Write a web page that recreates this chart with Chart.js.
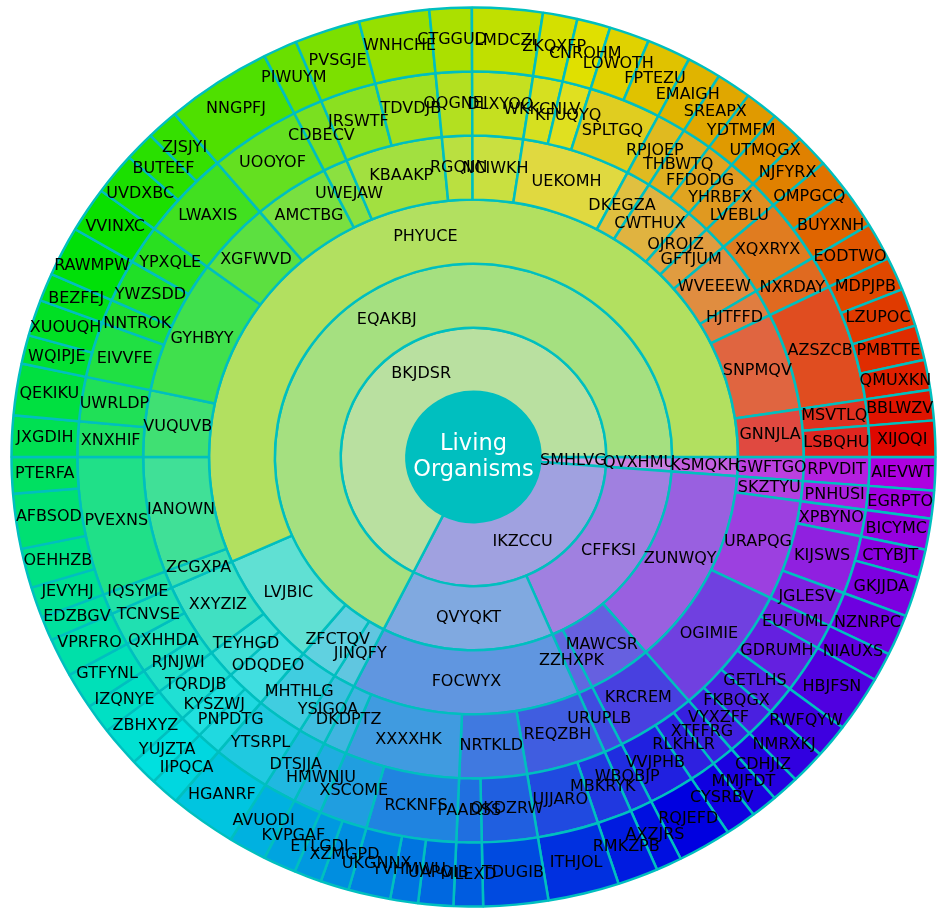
<!DOCTYPE html>
<html>
<head>
<meta charset="utf-8">
<script src="https://cdn.jsdelivr.net/npm/chart.js@4.4.1/dist/chart.umd.min.js"></script>
<style>
  html, body { margin: 0; padding: 0; background: #fff; }
  canvas { display: block; }
</style>
</head>
<body>
<canvas id="sunburst" width="941" height="908"></canvas>
<script>
// every ring is listed counter-clockwise starting at 3 o'clock
// "Kids" = how many segments of the next ring out belong to each segment
var centerTitle = ["Living", "Organisms"];

var ring1Names = ["BKJDSR", "IKZCCU", "SMHLVG"];
var ring1Kids = [1, 2, 1];

var ring2Names = ["EQAKBJ", "QVYQKT", "CFFKSI", "QVXHMU"];
var ring2Kids = [4, 1, 3, 1];

var ring3Names = ["PHYUCE", "LVJBIC", "ZFCTQV", "JINQFY", "FOCWYX", "ZZHXPK", "MAWCSR", "ZUNWQY", "KSMQKH"];
var ring3Kids = [19, 3, 1, 1, 4, 1, 1, 3, 1];

var ring4Names = ["GNNJLA", "SNPMQV", "HJTFFD", "WVEEEW", "GFTJUM", "OJROJZ", "CWTHUX", "DKEGZA",
  "UEKOMH", "NCIWKH", "RGQIIN", "KBAAKP", "UWEJAW", "AMCTBG", "XGFWVD", "GYHBYY", "VUQUVB",
  "IANOWN", "ZCGXPA", "XXYZIZ", "TEYHGD", "ODQDEO", "MHTHLG", "YSIGOA", "DKDPTZ", "XXXXHK",
  "NRTKLD", "REQZBH", "URUPLB", "KRCREM", "OGIMIE", "URAPQG", "SKZTYU", "GWFTGO"];
var ring4Kids = [2, 1, 1, 1, 1, 1, 2, 1, 3, 1, 1, 2, 1, 1, 1, 4, 2, 1, 1, 3, 1, 2, 1, 1, 1, 2, 2, 2, 1, 3, 5, 3, 1, 1];

var ring5Names = ["LSBQHU", "MSVTLQ", "AZSZCB", "NXRDAY", "XQXRYX", "LVEBLU", "YHRBFX", "FFDODG",
  "THBWTQ", "RPJOEP", "SPLTGQ", "KFUQYQ", "WKKCNLV", "DLXYOQ", "OQGNEI", "TDVDJB", "JRSWTF",
  "CDBECV", "UOOYOF", "LWAXIS", "YPXQLE", "YWZSDD", "NNTROK", "EIVVFE", "UWRLDP", "XNXHIF",
  "PVEXNS", "IQSYME", "TCNVSE", "QXHHDA", "RJNJWI", "TQRDJB", "KYSZWJ", "PNPDTG", "YTSRPL",
  "DTSJJA", "HMWNJU", "XSCOME", "RCKNFS", "PAADSS", "QKDZRW", "UJJARO", "MBKRYK", "WBQBJP",
  "VVJPHB", "RLKHLR", "XTFFRG", "VYXZFF", "FKBQGX", "GETLHS", "GDRUMH", "EUFUML", "JGLESV",
  "KIJSWS", "XPBYNO", "PNHUSI", "RPVDIT"];
var ring5Kids = [1, 1, 4, 1, 2, 1, 1, 1, 1, 1, 2, 1, 1, 1, 1, 1, 1, 1, 1, 3, 1, 1, 1, 2, 1, 1, 4, 1,
  1, 1, 1, 1, 1, 1, 1, 1, 1, 2, 3, 1, 1, 1, 1, 1, 1, 1, 1, 1, 1, 1, 1, 1, 1, 2, 1, 1, 1];

var leafNames = ["XIJOQI", "BBLWZV", "QMUXKN", "PMBTTE", "LZUPOC", "MDPJPB", "EODTWO", "BUYXNH",
  "OMPGCQ", "NJFYRX", "UTMQGX", "YDTMFM", "SREAPX", "EMAIGH", "FPTEZU", "LOWOTH", "CNROHM",
  "ZKQXFP", "LMDCZI", "CTGGUD", "WNHCHE", "PVSGJE", "PIWUYM", "NNGPFJ", "ZJSJYI", "BUTEEF",
  "UVDXBC", "VVINXC", "RAWMPW", "BEZFEJ", "XUOUQH", "WQIPJE", "QEKIKU", "JXGDIH", "PTERFA",
  "AFBSOD", "OEHHZB", "JEVYHJ", "EDZBGV", "VPRFRO", "GTFYNL", "IZQNYE", "ZBHXYZ", "YUJZTA",
  "IIPQCA", "HGANRF", "AVUODI", "KVPGAF", "ETLGDI", "XZMGPD", "UKGNNX", "YVHMWU", "UAPOIB",
  "MLEXD", "TDUGIB", "ITHJOL", "RMKZPB", "AXZJRS", "RQJEFD", "CYSRBV", "MMJFDT", "CDHJIZ",
  "NMRXKJ", "RWFQYW", "HBJFSN", "NIAUXS", "NZNRPC", "GKJJDA", "CTYBJT", "BICYMC", "EGRPTO",
  "AIEVWT"];
var leafValues = [4.67, 3.93, 3.9, 4.5, 4.9, 4.3, 4.9, 5.1, 4.6, 4.3, 4.2, 4.2, 4.4, 4.3, 5.55,
  5.05, 4.2, 4.34, 8.86, 5.3, 8.85, 8.25, 4.3, 13.4, 4.05, 3.85, 5.5, 5.85, 6.45, 3.6, 4.7, 3.7,
  6.67, 5.33, 4.7, 7.1, 5.1, 4.0, 3.1, 5.0, 4.7, 3.8, 5.2, 3.5, 3.7, 8.4, 4.8, 4.13, 3.47, 3.6,
  5.3, 3.5, 4.4, 3.7, 8.15, 8.95, 5.1, 3.25, 6.75, 3.9, 3.36, 3.51, 4.43, 4.4, 7.3, 3.7, 5.3,
  5.1, 3.7, 4.0, 3.6, 4.3];

function sumUp(childValues, kids) {
  var out = [], k = 0;
  kids.forEach(function (n) {
    var s = 0;
    for (var i = 0; i < n; i++) s += childValues[k++];
    out.push(s);
  });
  return out;
}

var ring5Values = sumUp(leafValues, ring5Kids);
var ring4Values = sumUp(ring5Values, ring4Kids);
var ring3Values = sumUp(ring4Values, ring3Kids);
var ring2Values = sumUp(ring3Values, ring2Kids);
var ring1Values = sumUp(ring2Values, ring1Kids);

function hsv(h, s, v) {
  var c = v * s, hp = (h % 360) / 60, x = c * (1 - Math.abs(hp % 2 - 1)), r = 0, g = 0, b = 0;
  if (hp < 1) { r = c; g = x; } else if (hp < 2) { r = x; g = c; } else if (hp < 3) { g = c; b = x; }
  else if (hp < 4) { g = x; b = c; } else if (hp < 5) { r = x; b = c; } else { r = c; b = x; }
  var m = v - c;
  return "rgb(" + Math.round((r + m) * 255) + "," + Math.round((g + m) * 255) + "," + Math.round((b + m) * 255) + ")";
}

// hue follows the angle of the segment, inner rings are paler
function ringColors(values, depth) {
  var total = values.reduce(function (a, b) { return a + b; }, 0), acc = 0;
  return values.map(function (v) {
    var mid = (acc + v / 2) / total * 360;
    acc += v;
    return hsv(mid * 0.8, (depth + 1) / 7, 0.88);
  });
}

var rings = [
  [leafNames, leafValues, 6],
  [ring5Names, ring5Values, 5],
  [ring4Names, ring4Values, 4],
  [ring3Names, ring3Values, 3],
  [ring2Names, ring2Values, 2],
  [ring1Names, ring1Values, 1]
];

var EDGE = "#00bfbf";
var SQUASH = 0.973;
var OUTER = 462;
var INNER = 67;

// chart.js goes clockwise, the picture goes counter-clockwise -> reverse
var datasets = rings.map(function (r) {
  return {
    data: r[1].slice().reverse(),
    names: r[0].slice().reverse(),
    backgroundColor: ringColors(r[1], r[2]).reverse(),
    borderColor: EDGE,
    borderWidth: 2.5,
    clip: false
  };
});

var sunburstPlugin = {
  id: "sunburst",
  beforeDatasetsDraw: function (chart) {
    var ctx = chart.ctx, a = chart.chartArea;
    var cx = (a.left + a.right) / 2, cy = (a.top + a.bottom) / 2;
    ctx.save();
    ctx.translate(cx, cy);
    ctx.scale(1, SQUASH);
    ctx.translate(-cx, -cy);
  },
  afterDatasetsDraw: function (chart) {
    var ctx = chart.ctx;
    ctx.restore();
    var a = chart.chartArea;
    var cx = (a.left + a.right) / 2, cy = (a.top + a.bottom) / 2;

    ctx.save();
    ctx.fillStyle = "#000";
    ctx.font = '16px "DejaVu Sans"';
    ctx.textAlign = "center";
    ctx.textBaseline = "middle";
    chart.data.datasets.forEach(function (ds, i) {
      chart.getDatasetMeta(i).data.forEach(function (arc, j) {
        var p = arc.getProps(["x", "y", "startAngle", "endAngle", "innerRadius", "outerRadius"], true);
        var mid = (p.startAngle + p.endAngle) / 2;
        var r = (p.innerRadius + p.outerRadius) / 2;
        ctx.fillText(ds.names[j], p.x + r * Math.cos(mid), p.y + SQUASH * r * Math.sin(mid));
      });
    });

    ctx.fillStyle = EDGE;
    ctx.beginPath();
    ctx.ellipse(cx, cy, INNER, INNER * SQUASH, 0, 0, Math.PI * 2);
    ctx.fill();
    ctx.fillStyle = "#fff";
    ctx.font = '22.5px "DejaVu Sans"';
    ctx.fillText(centerTitle[0], cx, cy - 13);
    ctx.fillText(centerTitle[1], cx, cy + 13);
    ctx.restore();
  }
};

new Chart(document.getElementById("sunburst"), {
  type: "doughnut",
  data: { datasets: datasets },
  options: {
    responsive: false,
    animation: false,
    rotation: 90,
    radius: OUTER,
    cutout: (INNER / OUTER * 100) + "%",
    layout: { padding: { left: 6, top: 6, right: 0, bottom: 0 } },
    plugins: { legend: { display: false }, tooltip: { enabled: false } }
  },
  plugins: [sunburstPlugin]
});
</script>
</body>
</html>
